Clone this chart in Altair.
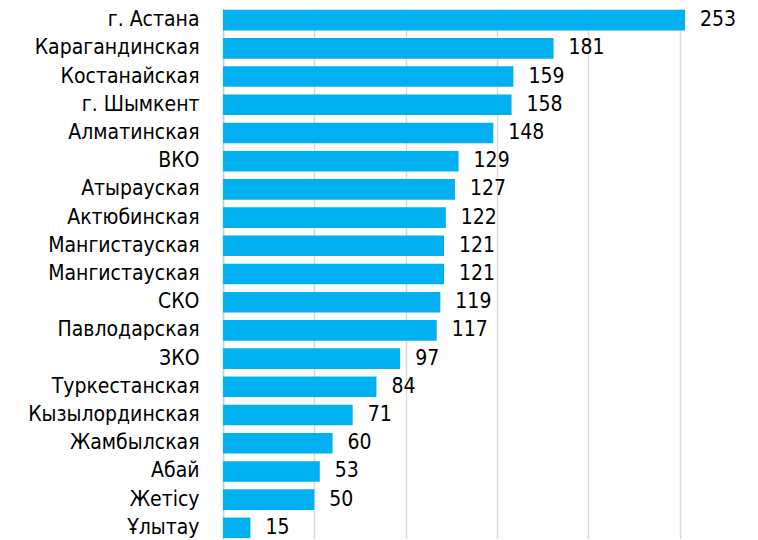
import altair as alt
import pandas as pd

regions = ["г. Астана", "Карагандинская", "Костанайская", "г. Шымкент", "Алматинская",
           "ВКО", "Атырауская", "Актюбинская", "Мангистауская", "Мангистауская",
           "СКО", "Павлодарская", "ЗКО", "Туркестанская", "Кызылординская",
           "Жамбылская", "Абай", "Жетісу", "Ұлытау"]
values = [253, 181, 159, 158, 148, 129, 127, 122, 121, 121, 119, 117, 97, 84, 71, 60, 53, 50, 15]

df = pd.DataFrame({"idx": list(range(len(regions))), "region": regions, "value": values})

FONT = "DejaVu Sans Condensed, Liberation Sans Narrow, sans-serif"
BLUE = "#00B0F0"

label_expr = "[" + ",".join("'" + r + "'" for r in regions) + "][toNumber(datum.value)]"
order = list(range(len(regions)))

y = alt.Y("idx:O", sort=order, title=None,
          scale=alt.Scale(paddingInner=0.27, paddingOuter=0.03),
          axis=alt.Axis(labelExpr=label_expr, labelFont=FONT, labelFontSize=21,
                        labelColor="#000000", labelPadding=24, ticks=False,
                        domain=True, domainColor="#D0D0D0", domainWidth=1.5,
                        labelLimit=300, minExtent=215, maxExtent=215, grid=False))
x = alt.X("value:Q", title=None,
          scale=alt.Scale(domain=[0, 288], nice=False, zero=True),
          axis=alt.Axis(values=[0, 50, 100, 150, 200, 250], labels=False, ticks=False,
                        domain=False, grid=True, gridColor="#D9D9D9", gridWidth=1.5))

bars = alt.Chart(df).mark_bar(color=BLUE).encode(x=x, y=y)
texts = alt.Chart(df).mark_text(align="left", baseline="middle", dx=15, font=FONT,
                                fontSize=21, color="#000000").encode(
    x=alt.X("value:Q"), y=alt.Y("idx:O", sort=order), text="value:Q")

chart = (bars + texts).properties(width=526, height=530, padding=0).configure_view(stroke=None)
chart.save("out.html", embed_options={"renderer": "svg", "actions": False})
